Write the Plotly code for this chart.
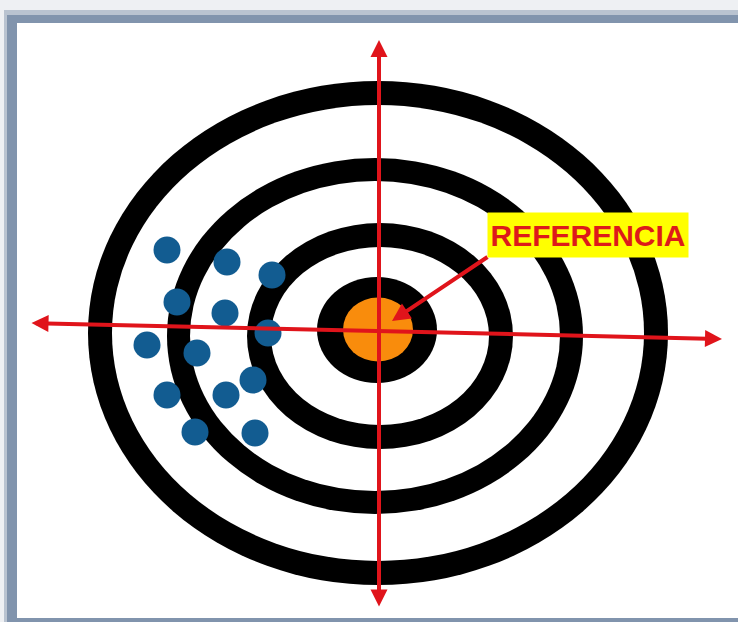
import plotly.graph_objects as go

# ---- data (pixel-derived coordinates, centre of target at origin) ----
ring_cx = [0, -3, 2, -1]          # centre x of each black ring
ring_cy = [0, -3, -3, 3]          # centre y of each black ring
ring_rx = [290, 208, 133, 60]     # outer half-width of each black ring
ring_ry = [252, 178, 113, 53]     # outer half-height of each black ring
ring_band = [24, 23, 24, 0]       # thickness of black band (0 = filled)

bull_cx, bull_cy, bull_rx, bull_ry = 0, 3.5, 35, 32

shot_x = [-211, -151, -106, -201, -153, -110, -231, -181, -125, -211, -152, -183, -123]
shot_y = [83, 71, 58, 31, 20, 0, -12, -20, -47, -62, -62, -99, -100]

label_text = "REFERENCIA"

W, H = 738, 622
OX, OY = 378, 333  # pixel position of target centre

fig = go.Figure()

shapes = []
# frame (paper coords)
def prect(x0, y0, x1, y1, color):
    return dict(type="rect", xref="paper", yref="paper",
                x0=x0 / W, x1=x1 / W, y0=1 - y1 / H, y1=1 - y0 / H,
                fillcolor=color, line=dict(width=0), layer="below")

shapes.append(prect(0, 0, W, H, "#eef0f3"))
shapes.append(prect(4, 10, W + 5, H + 5, "#b9c3d0"))
shapes.append(prect(7, 15, W + 5, H + 5, "#8194ad"))
shapes.append(prect(17, 23, W + 5, 618, "#ffffff"))

# rings
for cx, cy, rx, ry, b in zip(ring_cx, ring_cy, ring_rx, ring_ry, ring_band):
    shapes.append(dict(type="circle", xref="x", yref="y",
                       x0=cx - rx, x1=cx + rx, y0=cy - ry, y1=cy + ry,
                       fillcolor="#000000", line=dict(width=0), layer="below"))
    if b > 0:
        shapes.append(dict(type="circle", xref="x", yref="y",
                           x0=cx - rx + b, x1=cx + rx - b, y0=cy - ry + b, y1=cy + ry - b,
                           fillcolor="#ffffff", line=dict(width=0), layer="below"))
# bullseye
shapes.append(dict(type="circle", xref="x", yref="y",
                   x0=bull_cx - bull_rx, x1=bull_cx + bull_rx,
                   y0=bull_cy - bull_ry, y1=bull_cy + bull_ry,
                   fillcolor="#f98c0c", line=dict(width=0), layer="below"))

fig.add_trace(go.Scatter(x=shot_x, y=shot_y, mode="markers",
                         marker=dict(size=27, color="#125c91", line=dict(width=0)),
                         hoverinfo="skip"))

RED = "#e0141b"
annotations = [
    # horizontal axis with arrows both ends
    dict(x=344, y=-6, ax=-348, ay=10, xref="x", yref="y", axref="x", ayref="y",
         text="", showarrow=True, arrowhead=2, startarrowhead=2, arrowside="end+start",
         arrowsize=0.85, startarrowsize=0.85, arrowwidth=4, arrowcolor=RED,
         standoff=0, startstandoff=0),
    # vertical axis
    dict(x=1, y=293, ax=1, ay=-275, xref="x", yref="y", axref="x", ayref="y",
         text="", showarrow=True, arrowhead=2, startarrowhead=2, arrowside="end+start",
         arrowsize=0.85, startarrowsize=0.85, arrowwidth=4, arrowcolor=RED,
         standoff=0, startstandoff=0),
    # pointer to reference
    dict(x=14, y=12, ax=111, ay=77, xref="x", yref="y", axref="x", ayref="y",
         text="", showarrow=True, arrowhead=2, arrowsize=0.9, arrowwidth=4,
         arrowcolor=RED, standoff=0),
    # label
    dict(x=588 - OX, y=OY - 235, xref="x", yref="y", text=label_text, showarrow=False,
         bgcolor="#ffff00", width=196, height=40, borderpad=2,
         font=dict(family="Liberation Sans, Arial, sans-serif", size=30, color="#dd1a1a",
                   weight="bold")),
]

fig.update_layout(
    width=W, height=H,
    margin=dict(l=0, r=0, t=0, b=0),
    paper_bgcolor="#ffffff", plot_bgcolor="rgba(0,0,0,0)",
    showlegend=False,
    xaxis=dict(range=[-OX, W - OX], visible=False, fixedrange=True),
    yaxis=dict(range=[OY - H, OY], visible=False, fixedrange=True),
    shapes=shapes, annotations=annotations,
)

fig.write_html("out.html", config={"displayModeBar": False},
               post_script="document.body.style.margin='0';document.body.style.overflow='hidden';")
